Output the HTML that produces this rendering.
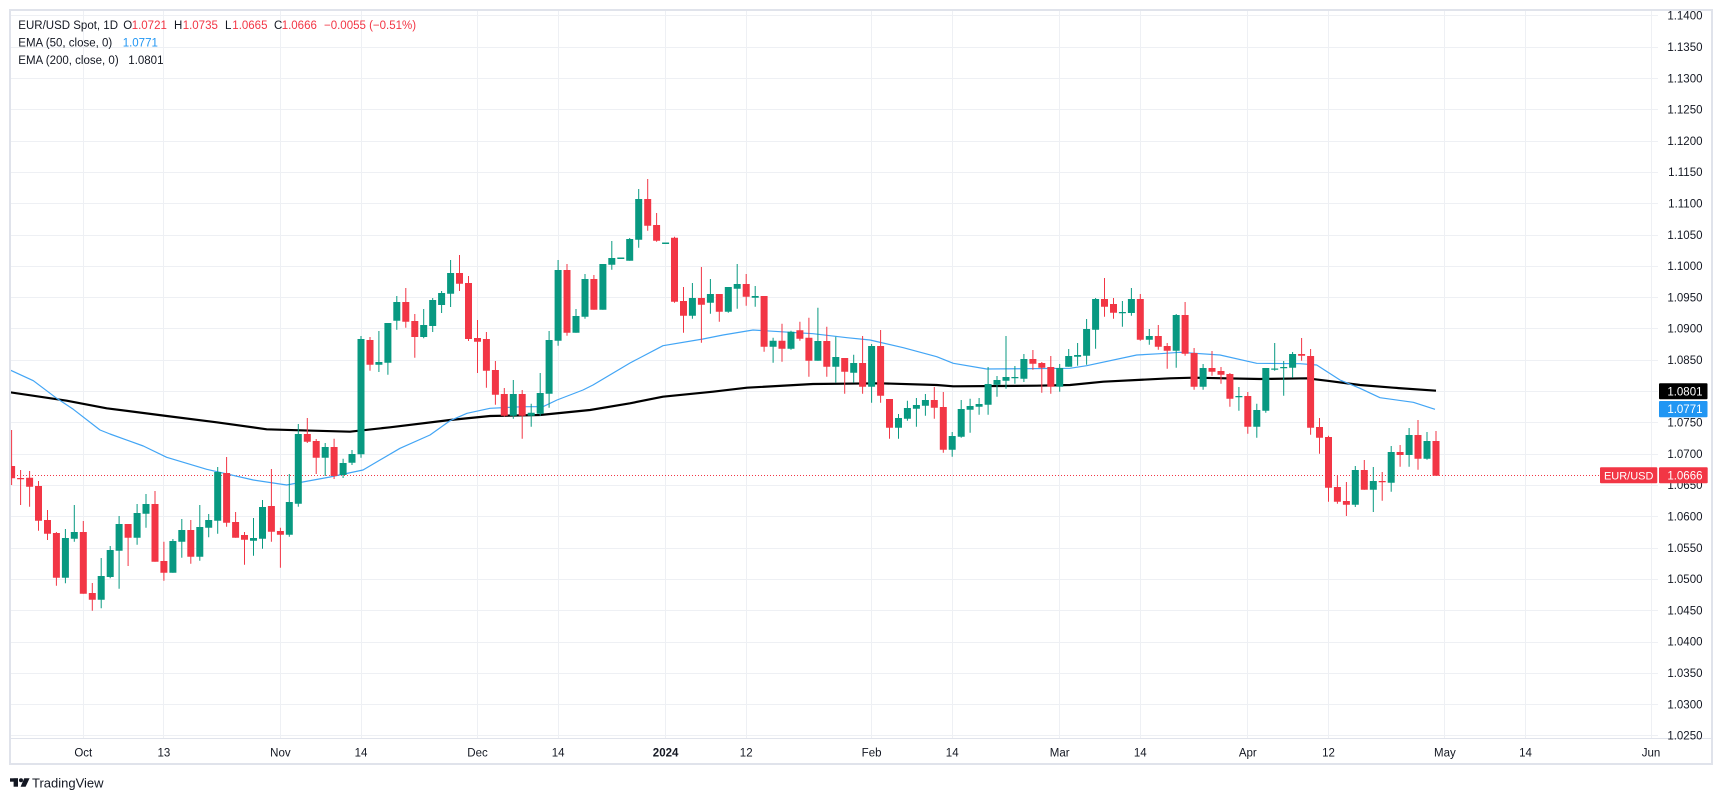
<!DOCTYPE html>
<html><head><meta charset="utf-8"><style>
html,body{margin:0;padding:0;background:#fff;overflow:hidden}
svg{display:block}
text{font-family:"Liberation Sans",sans-serif}
</style></head><body>
<svg width="1723" height="801" viewBox="0 0 1723 801" xmlns="http://www.w3.org/2000/svg">
<defs><clipPath id="pc"><rect x="11" y="11" width="1647" height="727"/></clipPath></defs>
<rect width="1723" height="801" fill="#fff"/>
<!-- grid -->
<g stroke="#eef0f4" stroke-width="1">
<path d="M11,15.5H1658M11,47.5H1658M11,78.5H1658M11,109.5H1658M11,141.5H1658M11,172.5H1658M11,203.5H1658M11,235.5H1658M11,266.5H1658M11,297.5H1658M11,328.5H1658M11,360.5H1658M11,391.5H1658M11,422.5H1658M11,454.5H1658M11,485.5H1658M11,516.5H1658M11,548.5H1658M11,579.5H1658M11,610.5H1658M11,642.5H1658M11,673.5H1658M11,704.5H1658M11,735.5H1658"/>
<path d="M83.5,11V738M163.5,11V738M280.5,11V738M361.5,11V738M477.5,11V738M558.5,11V738M665.5,11V738M746.5,11V738M871.5,11V738M952.5,11V738M1059.5,11V738M1140.5,11V738M1247.5,11V738M1328.5,11V738M1444.5,11V738M1525.5,11V738M1651.5,11V738"/>
</g>
<!-- frame -->
<rect x="10" y="10" width="1702" height="754" fill="none" stroke="#e0e3eb" stroke-width="2"/>
<line x1="10" y1="738.5" x2="1712" y2="738.5" stroke="#e0e3eb" stroke-width="1"/>
<g clip-path="url(#pc)">
<!-- current price dotted line -->
<line x1="11" y1="475.5" x2="1600" y2="475.5" stroke="#f23645" stroke-width="1" stroke-dasharray="1 2"/>
<!-- EMA 200 -->
<path fill="none" stroke="#000" stroke-width="2.2" stroke-linejoin="round" d="M10,392.3 L66.7,400.7 L106.7,408.3 L166.7,416 L216.7,422.3 L266.7,429.3 L300,430.3 L350,431.7 L390,427.3 L450,420 L490,416 L540,415 L590,410 L630,403.3 L663,396.7 L713,391.7 L747,387.7 L813,384 L880,383.3 L936.7,385 L953.3,386.3 L1036.7,385.7 L1070,385 L1103.3,381.7 L1170,378.3 L1193.3,377.7 L1260,379 L1306.7,378.3 L1326.7,380.7 L1360,385 L1393.3,387.7 L1436,390.7"/>
<!-- EMA 50 -->
<path fill="none" stroke="#42a5f5" stroke-width="1.2" stroke-linejoin="round" d="M10,370 L33.3,380.7 L56.7,398.3 L73.3,409.3 L100,430 L110,434 L143.3,446 L166.7,457.3 L206.7,469.3 L253.3,480 L286.7,485 L300,482.5 L330,477 L363,470 L400,448.3 L430,435 L450,420.7 L467,413.3 L490,408.3 L523,406.7 L543,406.7 L557,400 L583,390 L593,385 L630,363 L663,345.7 L703,339 L723,335 L753,330 L780,331.7 L813,333.7 L847,337.7 L870,340 L903.3,347.7 L936.7,356.7 L953.3,363.3 L986.7,369 L1070,368.3 L1086.7,365.7 L1136.7,355 L1160,353.7 L1180,352.3 L1220,355 L1256.7,363.3 L1300,363.7 L1316.7,365 L1340,380 L1360,388.3 L1380,397.7 L1413.3,402.3 L1435,409.3"/>
<!-- green wicks -->
<path fill="none" stroke="#089981" stroke-width="1" d="M65.4,529V583.3 M74.3,505V541.7 M101.2,558V608.3 M110.2,546V578.3 M119.1,516V588.7 M137.1,504V544.7 M146,494V527.7 M172.9,539V572.7 M181.8,519V557.7 M199.8,505V560.7 M208.7,514V537.3 M217.7,467V533.7 M253.5,518V555.7 M262.5,500V548.7 M289.3,474V536.7 M298.3,424V506.7 M325.2,443V476 M343.1,458.7V478 M352,450V465 M361,336V457.7 M378.9,331V372 M387.9,323V374.7 M396.8,296V329.7 M423.7,309V338.3 M432.7,298V332 M441.6,291V313 M450.6,260V307 M513.3,380V418.7 M531.2,403.7V426.7 M540.2,373V415.7 M549.1,331V407.7 M558.1,260V345.7 M576,309V332.7 M585,274V318.7 M602.9,264V309.7 M611.8,241V269.7 M629.7,238V260.7 M638.7,189V247.7 M692.4,283V318.7 M710.4,279V313.7 M728.3,287V312.7 M737.2,264V308.7 M755.2,286V306.7 M773.1,337.7V362.7 M791,330.7V349.7 M817.9,307.7V360.7 M835.8,336.7V382.7 M853.7,354.7V382.7 M871.6,344V402.7 M898.5,414V438.7 M907.4,400.7V420.7 M916.4,398V426.7 M925.4,394V415.7 M952.2,432V456.7 M961.2,400V437.7 M970.1,398.7V432.7 M979.1,398V414.7 M988.1,367V414.7 M997,376V396.7 M1006,336V388.7 M1014.9,366V383.7 M1023.9,354V382 M1059.7,364V391.7 M1068.7,349V366.7 M1077.6,343V365.7 M1086.6,319V364.7 M1095.6,298V348.7 M1122.4,301V326.7 M1131.4,288V315.7 M1149.3,329V344.7 M1176.2,314V367.7 M1203.1,364V389.7 M1238.9,387V410.7 M1256.8,403.7V437.7 M1265.8,368V412.7 M1274.7,343V370.7 M1283.7,361V395.7 M1292.6,352V377.7 M1355.3,466V507 M1373.3,467V512 M1391.2,446V491.7 M1409.1,428V466.7 M1427,432V459.7"/>
<!-- red wicks -->
<path fill="none" stroke="#f23645" stroke-width="1" d="M11.6,430V485 M20.6,470V505 M29.6,471V506.7 M38.5,481V530.7 M47.5,510V540 M56.4,532V585.7 M83.3,521V593.7 M92.3,583V610.7 M128.1,524V566 M155,491V561.7 M163.9,541.7V580.7 M190.8,520V563.7 M226.6,457V526.7 M235.6,512V537.7 M244.5,532V564.7 M271.4,469V541.7 M280.4,527.7V567.7 M307.3,418V443 M316.2,439V474 M334.1,438.7V479 M370,337V370.7 M405.8,288V327.7 M414.8,314V357.7 M459.5,255V291 M468.5,276V341 M477.5,320V373 M486.4,332V387.7 M495.4,361V404.7 M504.3,388V416.7 M522.2,390V438.7 M567,264V335.7 M593.9,275V309.7 M647.7,179V230.7 M656.6,213V241.7 M674.5,236.7V302.7 M683.5,287V332.7 M701.4,267V342.7 M719.3,294V321.7 M746.2,274V305.7 M764.1,296V351.7 M782,323.7V361.7 M799.9,321.7V340.7 M808.9,317.7V376.7 M826.8,326.7V376.7 M844.7,358V393.7 M862.6,336V393.7 M880.6,330V402.7 M889.5,399V438.7 M934.3,387V418.7 M943.3,392V452.7 M1032.9,350V369.7 M1041.8,362V392.7 M1050.8,356V393.7 M1104.5,278V316.7 M1113.5,298V318.7 M1140.3,294V340.7 M1158.3,325V349.7 M1167.2,343V368.7 M1185.1,302V355.7 M1194.1,348V389.7 M1212,351V375.7 M1221,367V383.7 M1229.9,373V406.7 M1247.8,392V433.7 M1301.6,338V360.7 M1310.6,349V434.7 M1319.5,418V453.7 M1328.5,435.7V501.7 M1337.4,475V503.7 M1346.4,482V516 M1364.3,460V489.7 M1382.2,472V500.7 M1400.1,445V466.7 M1418,420V469.7 M1436,431V475.7"/>
<!-- green bodies -->
<path fill="#089981" d="M61.9,538h7v39.7h-7z M70.8,532h7v6.7h-7z M97.7,576h7v23.7h-7z M106.7,550h7v27h-7z M115.6,524h7v26.7h-7z M133.6,513h7v24.7h-7z M142.5,504h7v9.7h-7z M169.4,541h7v31.7h-7z M178.3,530h7v11.7h-7z M196.3,527h7v29.7h-7z M205.2,520h7v7.7h-7z M214.2,472h7v48.7h-7z M250,538h7v2.7h-7z M259,507h7v31.7h-7z M285.8,502h7v32.7h-7z M294.8,434h7v69.7h-7z M321.7,447h7v10.7h-7z M339.6,463h7v12h-7z M348.5,454h7v8.7h-7z M357.5,339h7v115.3h-7z M375.4,362h7v2.7h-7z M384.4,323h7v39.7h-7z M393.3,302h7v18.7h-7z M420.2,325h7v12h-7z M429.2,300h7v26h-7z M438.1,293h7v12h-7z M447.1,273h7v20.7h-7z M509.8,394h7v21.7h-7z M527.7,412.7h7v3h-7z M536.7,393h7v20.7h-7z M545.6,340h7v53.7h-7z M554.6,270h7v70.7h-7z M572.5,316h7v16.7h-7z M581.5,279h7v37.7h-7z M599.4,264h7v45.7h-7z M608.3,258h7v6.7h-7z M617.3,257.5h7v1.5h-7z M626.2,239h7v21.7h-7z M635.2,199h7v40.7h-7z M662.1,242.5h7v1.5h-7z M688.9,298h7v17.7h-7z M706.9,294h7v8.7h-7z M724.8,287h7v24.7h-7z M733.7,284h7v4.7h-7z M751.7,296h7v1.7h-7z M769.6,340.7h7v6h-7z M787.5,331.7h7v17h-7z M814.4,341h7v19.7h-7z M832.3,357h7v9.7h-7z M850.2,363h7v9.7h-7z M868.1,346h7v40.7h-7z M895,418h7v9.7h-7z M903.9,408h7v10.7h-7z M912.9,405h7v3.7h-7z M921.9,400h7v5.7h-7z M948.7,436h7v13.7h-7z M957.7,409h7v27.7h-7z M966.6,406h7v3.7h-7z M975.6,404h7v2.7h-7z M984.6,384h7v20.7h-7z M993.5,380h7v4.7h-7z M1002.5,377h7v3.7h-7z M1011.4,377h7v1.2h-7z M1020.4,359h7v19.7h-7z M1056.2,368h7v18.7h-7z M1065.2,356h7v10.7h-7z M1074.1,355h7v1.7h-7z M1083.1,329h7v26.7h-7z M1092.1,299h7v30.7h-7z M1118.9,312h7v1.2h-7z M1127.9,299h7v14h-7z M1145.8,336h7v3.7h-7z M1172.7,315h7v35.7h-7z M1199.6,368h7v18.7h-7z M1235.4,396h7v1.2h-7z M1253.3,410h7v16.7h-7z M1262.3,368h7v42.7h-7z M1271.2,368.5h7v1.2h-7z M1280.2,367h7v1.2h-7z M1289.1,354h7v13.7h-7z M1351.8,470h7v34.7h-7z M1369.8,481h7v8.7h-7z M1387.7,452h7v30.7h-7z M1405.6,435h7v20h-7z M1423.5,441h7v17.7h-7z"/>
<!-- red bodies -->
<path fill="#f23645" d="M8.1,466h7v12.3h-7z M17.1,478h7v1.2h-7z M26.1,477.7h7v9h-7z M35,486h7v34.7h-7z M44,520h7v13.7h-7z M52.9,533h7v44.7h-7z M79.8,532h7v61.7h-7z M88.8,593h7v6.7h-7z M124.6,524h7v13.7h-7z M151.5,504h7v57.7h-7z M160.4,561h7v11.7h-7z M187.3,530h7v26.7h-7z M223.1,473h7v49.7h-7z M232.1,522h7v15.7h-7z M241,535h7v4.7h-7z M267.9,506h7v25.7h-7z M276.9,531h7v3.7h-7z M303.8,434h7v7.7h-7z M312.7,441h7v16.7h-7z M330.6,447h7v29h-7z M366.5,340h7v24.7h-7z M402.3,302h7v19.7h-7z M411.3,321h7v16h-7z M456,273h7v10.7h-7z M465,283h7v56h-7z M474,338h7v3.7h-7z M482.9,339h7v31.7h-7z M491.9,370h7v24.7h-7z M500.8,394h7v21.7h-7z M518.7,394h7v21.7h-7z M563.5,270h7v62.7h-7z M590.4,279h7v30.7h-7z M644.2,199h7v26.7h-7z M653.1,225h7v15.7h-7z M671,237.7h7v64h-7z M680,301h7v14.7h-7z M697.9,298h7v6.7h-7z M715.8,294h7v17.7h-7z M742.7,284h7v12.7h-7z M760.6,296h7v50.7h-7z M778.5,340.7h7v8h-7z M796.4,330.3h7v8.4h-7z M805.4,337.7h7v23h-7z M823.3,341h7v25.7h-7z M841.2,358h7v13.7h-7z M859.1,363h7v23.7h-7z M877.1,346h7v49.7h-7z M886,399h7v28.7h-7z M930.8,400h7v7.7h-7z M939.8,407h7v42.7h-7z M1029.4,359h7v4.7h-7z M1038.3,363h7v4.7h-7z M1047.3,367h7v19.7h-7z M1101,299h7v7.7h-7z M1110,304h7v8.7h-7z M1136.8,299h7v40.7h-7z M1154.8,336h7v10.7h-7z M1163.7,346h7v4.7h-7z M1181.6,315h7v38.7h-7z M1190.6,353h7v33.7h-7z M1208.5,368h7v3.7h-7z M1217.5,371h7v3.7h-7z M1226.4,374h7v24.7h-7z M1244.3,396h7v30.7h-7z M1298.1,354h7v1.7h-7z M1307.1,356h7v71.7h-7z M1316,427h7v10.7h-7z M1325,437h7v50.7h-7z M1333.9,487h7v14.7h-7z M1342.9,501h7v3.7h-7z M1360.8,470h7v19.7h-7z M1378.7,481h7v1.2h-7z M1396.6,452h7v3h-7z M1414.5,435h7v23.7h-7z M1432.5,441h7v34.7h-7z"/>
</g>
<!-- price axis labels -->
<g font-size="11.5" fill="#131722" text-anchor="end">
<text x="1702.5" y="19.7">1.1400</text>
<text x="1702.5" y="51">1.1350</text>
<text x="1702.5" y="82.3">1.1300</text>
<text x="1702.5" y="113.6">1.1250</text>
<text x="1702.5" y="144.9">1.1200</text>
<text x="1702.5" y="176.2">1.1150</text>
<text x="1702.5" y="207.5">1.1100</text>
<text x="1702.5" y="238.8">1.1050</text>
<text x="1702.5" y="270.1">1.1000</text>
<text x="1702.5" y="301.4">1.0950</text>
<text x="1702.5" y="332.7">1.0900</text>
<text x="1702.5" y="364">1.0850</text>
<text x="1702.5" y="395.3">1.0800</text>
<text x="1702.5" y="426.6">1.0750</text>
<text x="1702.5" y="457.9">1.0700</text>
<text x="1702.5" y="489.2">1.0650</text>
<text x="1702.5" y="520.5">1.0600</text>
<text x="1702.5" y="551.8">1.0550</text>
<text x="1702.5" y="583.1">1.0500</text>
<text x="1702.5" y="614.4">1.0450</text>
<text x="1702.5" y="645.7">1.0400</text>
<text x="1702.5" y="677">1.0350</text>
<text x="1702.5" y="708.3">1.0300</text>
<text x="1702.5" y="739.6">1.0250</text>
</g>
<!-- value boxes -->
<rect x="1659" y="383.3" width="48.5" height="16" rx="1" fill="#000"/>
<text x="1702.5" y="395.4" font-size="11.5" fill="#fff" text-anchor="end">1.0801</text>
<rect x="1659" y="401" width="48.5" height="16.3" rx="1" fill="#2196f3"/>
<text x="1702.5" y="413.2" font-size="11.5" fill="#fff" text-anchor="end">1.0771</text>
<rect x="1600" y="467.3" width="57.3" height="16" rx="1" fill="#f23645"/>
<text x="1628.7" y="479.4" font-size="11" fill="#fff" text-anchor="middle">EUR/USD</text>
<rect x="1659" y="467.3" width="48.7" height="16" rx="1" fill="#f23645"/>
<text x="1702.5" y="479.4" font-size="11.5" fill="#fff" text-anchor="end">1.0666</text>
<!-- time axis labels -->
<g font-size="11.5" fill="#131722" text-anchor="middle">
<text x="83.3" y="756.6">Oct</text>
<text x="163.9" y="756.6">13</text>
<text x="280.4" y="756.6">Nov</text>
<text x="361" y="756.6">14</text>
<text x="477.5" y="756.6">Dec</text>
<text x="558.1" y="756.6">14</text>
<text x="665.6" y="756.6" font-weight="bold">2024</text>
<text x="746.2" y="756.6">12</text>
<text x="871.6" y="756.6">Feb</text>
<text x="952.2" y="756.6">14</text>
<text x="1059.7" y="756.6">Mar</text>
<text x="1140.3" y="756.6">14</text>
<text x="1247.8" y="756.6">Apr</text>
<text x="1328.5" y="756.6">12</text>
<text x="1444.9" y="756.6">May</text>
<text x="1525.5" y="756.6">14</text>
<text x="1651" y="756.6">Jun</text>
</g>
<!-- legend -->
<g font-size="11.5" fill="#131722">
<text x="18.3" y="29">EUR/USD Spot, 1D</text>
<text x="123.3" y="29">O</text><text x="131.7" y="29" fill="#f23645">1.0721</text>
<text x="174" y="29">H</text><text x="182.7" y="29" fill="#f23645">1.0735</text>
<text x="225" y="29">L</text><text x="232.3" y="29" fill="#f23645">1.0665</text>
<text x="274" y="29">C</text><text x="281.7" y="29" fill="#f23645">1.0666</text>
<text x="324" y="29" fill="#f23645">−0.0055 (−0.51%)</text>
<text x="18.3" y="46.7">EMA (50, close, 0)</text><text x="122.7" y="46.7" fill="#2196f3">1.0771</text>
<text x="18.3" y="64.2">EMA (200, close, 0)</text><text x="128.3" y="64.2">1.0801</text>
</g>
<!-- TradingView logo -->
<g fill="#131722">
<rect x="10" y="778.3" width="8" height="3.4"/>
<rect x="13.6" y="778.3" width="4.4" height="8.4"/>
<circle cx="21" cy="780.3" r="2"/>
<polygon points="24.2,778.3 29.6,778.3 25.6,786.7 20.6,786.7"/>
</g>
<text x="32" y="787.3" font-size="13" fill="#131722">TradingView</text>
</svg>
</body></html>
